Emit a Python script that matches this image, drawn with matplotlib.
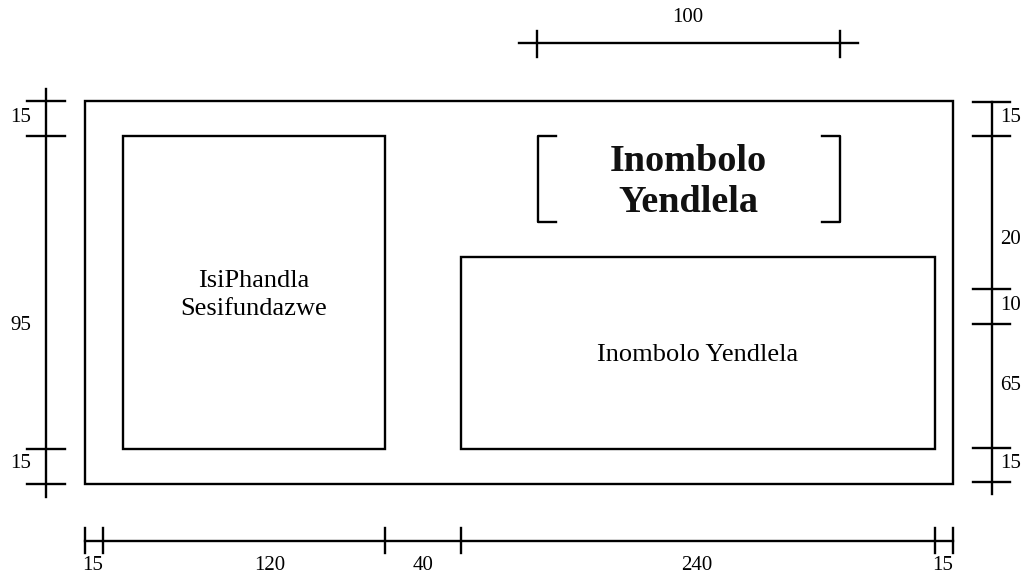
import matplotlib
matplotlib.use("Agg")
import matplotlib.pyplot as plt
from matplotlib.patches import Rectangle

plt.rcParams['font.family'] = ['Liberation Serif', 'DejaVu Serif']

# Dimension labels (as printed on the drawing)
bottom_dims = ["15", "120", "40", "240", "15"]
left_dims = ["15", "95", "15"]
right_dims = ["15", "20", "10", "65", "15"]
top_dim = "100"
panel_left_text = "IsiPhandla\nSesifundazwe"
panel_right_text = "Inombolo Yendlela"
header_text = "Inombolo\nYendlela"

# Layout (pixel coordinates of the drawing)
bottom_ticks = [85, 103, 385, 461, 935, 953]
bottom_label_x = [93, 270, 423, 697, 943]
left_ticks = [101, 136, 449, 484]
left_label_y = [118, 325, 464]
right_ticks = [102, 136, 289, 324, 448, 482]
right_label_y = [117, 240, 305, 385, 463]

fig = plt.figure(figsize=(10.23, 5.77), dpi=100)
ax = fig.add_axes([0, 0, 1, 1])
ax.set_xlim(0, 1023)
ax.set_ylim(577, 0)
ax.axis('off')

lw = 1.7
k = 'black'

# Sign boxes
ax.add_patch(Rectangle((85, 101), 953 - 85, 484 - 101, fill=False, lw=lw, ec=k))
ax.add_patch(Rectangle((123, 136), 385 - 123, 449 - 136, fill=False, lw=lw, ec=k))
ax.add_patch(Rectangle((461, 257), 935 - 461, 449 - 257, fill=False, lw=lw, ec=k))

# Brackets
ax.plot([556, 538, 538, 556], [136, 136, 222, 222], color=k, lw=lw)
ax.plot([822, 840, 840, 822], [136, 136, 222, 222], color=k, lw=lw)

# Texts inside
ax.text(688, 182, header_text, ha='center', va='center', fontsize=27.5,
        fontweight='bold', linespacing=1.2, color='#111111')
ax.text(254, 295, panel_left_text, ha='center', va='center', fontsize=19,
        linespacing=1.3)
ax.text(698, 355, panel_right_text, ha='center', va='center', fontsize=19)

# Top dimension
ax.plot([519, 858], [43, 43], color=k, lw=lw)
for x in [537, 840]:
    ax.plot([x, x], [31, 57], color=k, lw=lw)
ax.text(688, 18, top_dim, ha='center', va='center', fontsize=15)

# Left dimension
ax.plot([46, 46], [89, 497], color=k, lw=lw)
for y in left_ticks:
    ax.plot([27, 65], [y, y], color=k, lw=lw)
for lab, y in zip(left_dims, left_label_y):
    ax.text(31, y, lab, ha='right', va='center', fontsize=15)

# Right dimension
ax.plot([992, 992], [102, 494], color=k, lw=lw)
for y in right_ticks:
    ax.plot([973, 1010], [y, y], color=k, lw=lw)
for lab, y in zip(right_dims, right_label_y):
    ax.text(1000, y, lab, ha='left', va='center', fontsize=15)

# Bottom dimension
ax.plot([85, 953], [541, 541], color=k, lw=lw)
for x in bottom_ticks:
    ax.plot([x, x], [528, 553], color=k, lw=lw)
for lab, x in zip(bottom_dims, bottom_label_x):
    ax.text(x, 566, lab, ha='center', va='center', fontsize=15)

fig.savefig('out.png', dpi=100, facecolor='white')
